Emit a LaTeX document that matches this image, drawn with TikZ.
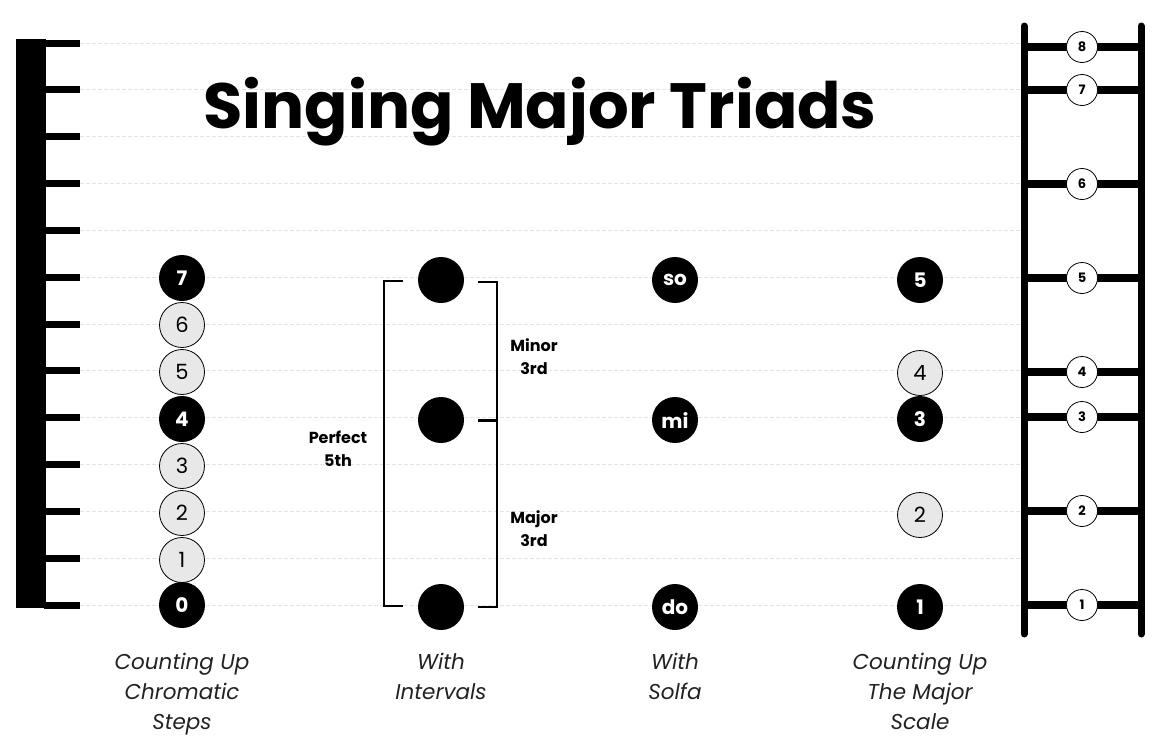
\documentclass[tikz,border=0pt]{standalone}
\usepackage{fontspec}
\setmainfont{Poppins}
\definecolor{gridgray}{HTML}{E4E4E4}
\definecolor{dotgray}{HTML}{E8E8E8}
\definecolor{captxt}{HTML}{222222}
\newcommand{\fs}[1]{\fontsize{#1}{#1}\selectfont}
\tikzset{
  blk/.style={circle, fill=black, text=white, minimum size=46pt, inner sep=0pt, font=\bfseries\fs{20}},
  gry/.style={circle, fill=dotgray, draw=black, line width=0.8pt, text=black, minimum size=45pt, inner sep=0pt, font=\fs{21}},
  bigdot/.style={circle, fill=black, minimum size=46pt, inner sep=0pt},
  lad/.style={circle, fill=white, draw=black, line width=0.8pt, minimum size=31pt, inner sep=0pt, font=\bfseries\fs{13}},
  gridline/.style={gridgray, line width=0.8pt, dash pattern=on 4pt off 2pt},
  tickline/.style={line width=7pt},
  rail/.style={line width=7pt, line cap=round},
  rung/.style={line width=8pt},
  brk/.style={line width=2pt},
  ilab/.style={font=\bfseries\fs{16}, inner sep=0pt, anchor=base},
  captext/.style={font=\itshape\fs{21.5}, text=captxt, inner sep=0pt, anchor=base},
}
\begin{document}
\begin{tikzpicture}[x=1pt,y=-1pt]
\useasboundingbox (0,0) rectangle (1159,744);
% grid lines and ruler ticks
\foreach \k in {0,...,12}{
  \pgfmathsetmacro{\yy}{43+\k*46.833}
  \draw[gridline] (80,\yy) -- (1020,\yy);
  \draw[tickline] (44,\yy) -- (80,\yy);
}
\fill (16,39) rectangle (46,608);
% title
\node[font=\bfseries\fs{64}, inner sep=0pt, anchor=base] (title) at (540,128) {Singing Major Triads};
% column 1
\node[blk] (c7) at (182,278) {7};
\node[gry] (c6) at (182,325) {6};
\node[gry] (c5) at (182,372) {5};
\node[blk] (c4) at (182,419) {4};
\node[gry] (c3) at (182,466) {3};
\node[gry] (c2) at (182,513) {2};
\node[gry] (c1) at (182,560) {1};
\node[blk] (c0) at (182,605) {0};
% column 2
\node[bigdot] (i5) at (441,280) {};
\node[bigdot] (i3) at (441,420) {};
\node[bigdot] (i1) at (441,607) {};
\draw[brk] (403,281) -- (384,281) -- (384,606) -- (403,606);
\draw[brk] (478,282) -- (497,282) -- (497,607) -- (478,607);
\draw[line width=3pt] (478,420) -- (497,420);
\node[ilab] (pf1) at (338,443) {Perfect};
\node[ilab] (pf2) at (338,466) {5th};
\node[ilab] (mi1) at (534,351) {Minor};
\node[ilab] (mi2) at (534,374) {3rd};
\node[ilab] (ma1) at (534,523) {Major};
\node[ilab] (ma2) at (534,546) {3rd};
% column 3
\node[blk] (so) at (675,280) {so};
\node[blk] (mi) at (675,420) {mi};
\node[blk] (do) at (675,607) {do};
% column 4
\node[blk] (s5) at (920,280) {5};
\node[gry] (s4) at (920,373) {4};
\node[blk] (s3) at (920,419) {3};
\node[gry] (s2) at (920,515) {2};
\node[blk] (s1) at (920,607) {1};
% ladder
\foreach \yy/\n in {47/8,90/7,184/6,278/5,372/4,417/3,511/2,605/1}{
  \draw[rung] (1024,\yy) -- (1141,\yy);
  \node[lad] (l\n) at (1082,\yy) {\n};
}
\draw[rail] (1024,26) -- (1024,634);
\draw[rail] (1141,26) -- (1141,634);
% captions
\node[captext] (a1) at (182,669) {Counting Up};
\node[captext] (a2) at (182,699) {Chromatic};
\node[captext] (a3) at (182,729) {Steps};
\node[captext] (b1) at (441,669) {With};
\node[captext] (b2) at (441,699) {Intervals};
\node[captext] (d1) at (675,669) {With};
\node[captext] (d2) at (675,699) {Solfa};
\node[captext] (e1) at (920,669) {Counting Up};
\node[captext] (e2) at (920,699) {The Major};
\node[captext] (e3) at (920,729) {Scale};
\end{tikzpicture}
\end{document}
